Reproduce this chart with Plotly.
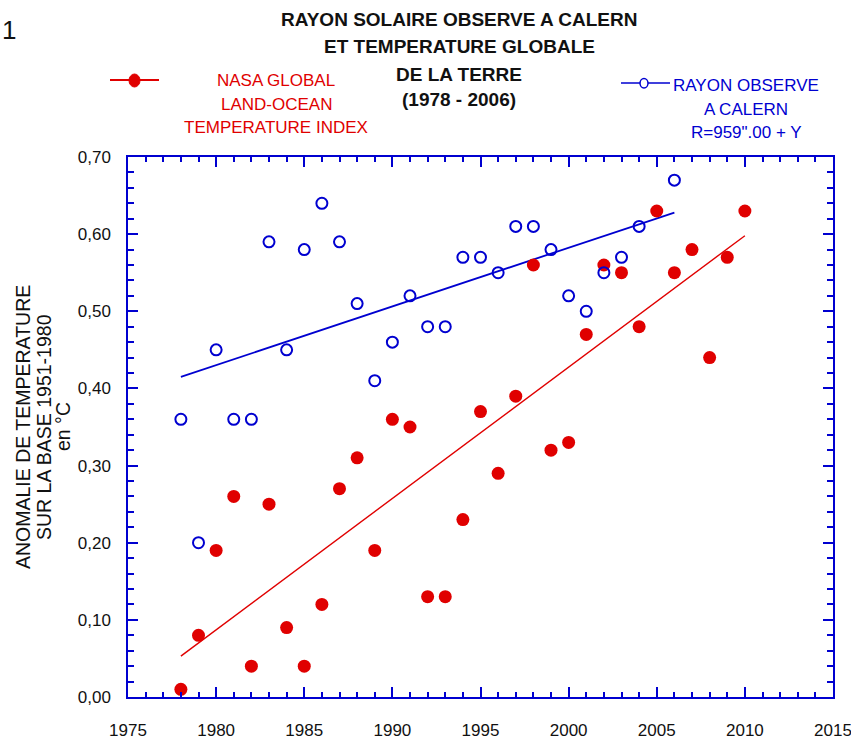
import plotly.graph_objects as go

# ---------------- data ----------------
nasa_years = list(range(1978, 2011))
nasa_temp = [0.01, 0.08, 0.19, 0.26, 0.04, 0.25, 0.09, 0.04, 0.12, 0.27,
             0.31, 0.19, 0.36, 0.35, 0.13, 0.13, 0.23, 0.37, 0.29, 0.39,
             0.56, 0.32, 0.33, 0.47, 0.56, 0.55, 0.48, 0.63, 0.55, 0.58,
             0.44, 0.57, 0.63]

calern_years = list(range(1978, 2005)) + [2006]
calern_radius = [0.36, 0.20, 0.45, 0.36, 0.36, 0.59, 0.45, 0.58, 0.64, 0.59,
                 0.51, 0.41, 0.46, 0.52, 0.48, 0.48, 0.57, 0.57, 0.55, 0.61,
                 0.61, 0.58, 0.52, 0.50, 0.55, 0.57, 0.61, 0.67]

# trend lines (end points)
nasa_trend_years = [1978, 2010]
nasa_trend_vals = [0.053, 0.598]
calern_trend_years = [1978, 2006]
calern_trend_vals = [0.415, 0.628]

x_ticks = [1975, 1980, 1985, 1990, 1995, 2000, 2005, 2010, 2015]
y_ticks = [0.0, 0.1, 0.2, 0.3, 0.4, 0.5, 0.6, 0.7]

title_lines = ["RAYON SOLAIRE OBSERVE A CALERN", "ET TEMPERATURE GLOBALE",
               "DE LA TERRE", "(1978 - 2006)"]
nasa_label = ["NASA GLOBAL", "LAND-OCEAN", "TEMPERATURE INDEX"]
calern_label = ["RAYON OBSERVE", "A CALERN", "R=959\".00 + Y"]
y_title_lines = ["ANOMALIE DE TEMPERATURE", "SUR LA BASE 1951-1980", "en °C"]

RED = "#e00000"
BLUE = "#0000d0"
SANS = "Liberation Sans, Arial, sans-serif"

# ---------------- layout geometry (screen pixels) ----------------
FW, FH = 851, 741
SL, ST, SR, SB = 128, 157, 833, 697      # plot area
ML, MT, MR, MB = SL, ST, FW - SR, FH - SB
PW, PH = SR - SL, SB - ST


def px(sx):
    return (sx - SL) / PW


def py(sy):
    return (SB - sy) / PH


fig = go.Figure()
fig.add_trace(go.Scatter(x=nasa_trend_years, y=nasa_trend_vals, mode="lines",
                         line=dict(color=RED, width=1.4), hoverinfo="skip"))
fig.add_trace(go.Scatter(x=calern_trend_years, y=calern_trend_vals, mode="lines",
                         line=dict(color=BLUE, width=1.8), hoverinfo="skip"))
fig.add_trace(go.Scatter(x=nasa_years, y=nasa_temp, mode="markers",
                         marker=dict(symbol="circle", size=13, color=RED),
                         name="NASA"))
fig.add_trace(go.Scatter(x=calern_years, y=calern_radius, mode="markers",
                         marker=dict(symbol="circle-open", size=11, color=BLUE,
                                     line=dict(width=2, color=BLUE)),
                         name="Calern"))

axis_common = dict(showline=True, linecolor=BLUE, linewidth=1.5, mirror="ticks",
                   ticks="inside", tickcolor=BLUE, tickwidth=1.5, ticklen=10,
                   showgrid=False, zeroline=False, automargin=False,
                   ticklabeloverflow="allow",
                   tickfont=dict(family=SANS, size=17, color="#111111"))

fig.update_xaxes(range=[1975, 2015], tickvals=x_ticks, tickformat="d",
                 ticklabelstandoff=17,
                 minor=dict(ticks="inside", dtick=1, ticklen=5,
                            tickcolor=BLUE, tickwidth=1.5, showgrid=False),
                 **axis_common)
fig.update_yaxes(range=[0, 0.7], tickvals=y_ticks, tickformat=".2f",
                 ticklabelstandoff=12,
                 minor=dict(ticks="inside", dtick=0.02, ticklen=6,
                            tickcolor=BLUE, tickwidth=1.5, showgrid=False),
                 **axis_common)

annotations = []
# main title
for txt, yy in zip(title_lines, [20, 47, 75, 100]):
    annotations.append(dict(text="<b>" + txt + "</b>", x=px(459), y=py(yy),
                            xref="paper", yref="paper", showarrow=False,
                            xanchor="center", yanchor="middle",
                            font=dict(family=SANS, size=19, color="#111111")))
# legend texts
for txt, yy in zip(nasa_label, [80, 104, 128]):
    annotations.append(dict(text=txt, x=px(276), y=py(yy), xref="paper",
                            yref="paper", showarrow=False, xanchor="center",
                            yanchor="middle",
                            font=dict(family=SANS, size=17, color=RED)))
for txt, yy in zip(calern_label, [85, 109, 132]):
    annotations.append(dict(text=txt, x=px(746), y=py(yy), xref="paper",
                            yref="paper", showarrow=False, xanchor="center",
                            yanchor="middle",
                            font=dict(family=SANS, size=17, color=BLUE)))
# y axis title
for txt, xx in zip(y_title_lines, [23, 44, 63]):
    annotations.append(dict(text=txt, x=px(xx), y=py(427), xref="paper",
                            yref="paper", showarrow=False, textangle=-90,
                            xanchor="center", yanchor="middle",
                            font=dict(family=SANS, size=19.5, color="#111111")))
# figure number
annotations.append(dict(text="1", x=px(0), y=py(30), xref="paper", yref="paper",
                        showarrow=False, xanchor="left", yanchor="middle",
                        font=dict(family=SANS, size=26, color="#111111")))

shapes = [
    dict(type="line", xref="paper", yref="paper", x0=px(110), x1=px(159),
         y0=py(80), y1=py(80), line=dict(color=RED, width=2)),
    dict(type="circle", xref="paper", yref="paper", x0=px(129), x1=px(140),
         y0=py(74), y1=py(87), fillcolor=RED, line=dict(color=RED, width=1)),
    dict(type="line", xref="paper", yref="paper", x0=px(621), x1=px(670),
         y0=py(83), y1=py(83), line=dict(color=BLUE, width=1.5)),
    dict(type="circle", xref="paper", yref="paper", x0=px(640), x1=px(648),
         y0=py(78.5), y1=py(88), fillcolor="white",
         line=dict(color=BLUE, width=1.5)),
]

fig.update_layout(width=FW, height=FH, margin=dict(l=ML, r=MR, t=MT, b=MB),
                  paper_bgcolor="white", plot_bgcolor="white",
                  showlegend=False, separators=", ",
                  annotations=annotations, shapes=shapes)

fig.write_html("out.html", config={"displayModeBar": False},
               post_script="document.body.style.margin='0';"
                           "document.body.style.overflow='hidden';")
